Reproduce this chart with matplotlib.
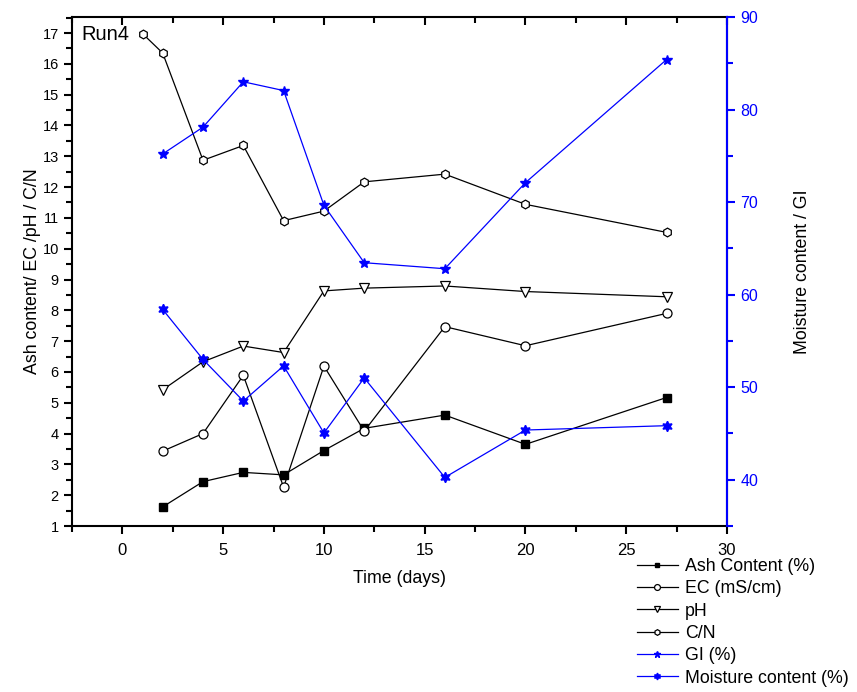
import matplotlib
matplotlib.use("Agg")
import matplotlib.pyplot as plt
from matplotlib.ticker import MultipleLocator

plt.rcParams['font.family'] = ['Liberation Sans', 'DejaVu Sans']

days = [2, 4, 6, 8, 10, 12, 16, 20, 27]
days_cn = [1, 2, 4, 6, 8, 10, 12, 16, 20, 27]
ash = [1.62, 2.44, 2.74, 2.66, 3.45, 4.17, 4.60, 3.65, 5.17]
ec = [3.43, 4.00, 5.89, 2.26, 6.19, 4.08, 7.47, 6.85, 7.90]
ph = [5.42, 6.33, 6.84, 6.63, 8.63, 8.72, 8.79, 8.61, 8.44]
cn = [16.98, 16.35, 12.87, 13.35, 10.91, 11.22, 12.17, 12.42, 11.44, 10.53]
gi = [75.2, 78.1, 83.0, 82.05, 69.65, 63.45, 62.8, 72.1, 85.4]
moisture = [58.4, 53.0, 48.5, 52.3, 45.05, 51.0, 40.25, 45.37, 45.84]

fig = plt.figure(figsize=(8.57, 6.92), dpi=100)
ax = fig.add_axes([72/857, 1-526/692, (727-72)/857, (526-17)/692])
ax2 = ax.twinx()

lw = 0.9
l1, = ax.plot(days, ash, '-', color='black', lw=lw, marker='s', ms=5.5,
              mfc='black', mec='black', label='Ash Content (%)')
l2, = ax.plot(days, ec, '-', color='black', lw=lw, marker='o', ms=6.5,
              mfc='white', mec='black', mew=0.9, label='EC (mS/cm)')
l3, = ax.plot(days, ph, '-', color='black', lw=lw, marker='v', ms=6.5,
              mfc='white', mec='black', mew=0.9, label='pH')
l4, = ax.plot(days_cn, cn, '-', color='black', lw=lw, marker='h', ms=6.3,
              mfc='white', mec='black', mew=0.9, label='C/N')
l5, = ax2.plot(days, gi, '-', color='#0000ff', lw=lw, marker='*', ms=7.5,
               mfc='#0000ff', mec='#0000ff', label='GI (%)')
l6, = ax2.plot(days, moisture, '-', color='#0000ff', lw=lw, marker=(6, 1, 0), ms=7.5,
               mfc='#0000ff', mec='#0000ff', label='Moisture content (%)')

ax.set_xlim(-2.5, 30)
ax.set_ylim(1, 17.52)
ax2.set_ylim(35, 90)

ax.xaxis.set_major_locator(MultipleLocator(5))
ax.xaxis.set_minor_locator(MultipleLocator(2.5))
ax.yaxis.set_major_locator(MultipleLocator(1))
ax.yaxis.set_minor_locator(MultipleLocator(0.5))
ax2.yaxis.set_major_locator(MultipleLocator(10))
ax2.yaxis.set_minor_locator(MultipleLocator(5))

for a in (ax, ax2):
    for s in a.spines.values():
        s.set_linewidth(1.5)

ax.tick_params(axis='x', which='both', direction='out', top=True, labelsize=12,
               width=1.5, pad=6)
ax.tick_params(axis='x', which='major', length=6)
ax.tick_params(axis='x', which='minor', length=4)
ax.tick_params(axis='y', which='both', direction='out', labelsize=10.5, width=1.5)
ax.tick_params(axis='y', which='major', length=6)
ax.tick_params(axis='y', which='minor', length=4)
for t in ax.xaxis.get_major_ticks() + ax.xaxis.get_minor_ticks():
    t.tick2line.set_marker(3)

ax2.spines['right'].set_color('#0000ff')
ax2.spines['left'].set_visible(False)
ax2.spines['top'].set_visible(False)
ax2.spines['bottom'].set_visible(False)
ax2.tick_params(axis='y', which='both', direction='out', colors='#0000ff',
                labelsize=11.5, width=1.5)
ax2.tick_params(axis='y', which='major', length=6)
ax2.tick_params(axis='y', which='minor', length=4)

ax.set_xlabel('Time (days)', fontsize=12.8, labelpad=9)
ax.set_ylabel('Ash content/ EC /pH / C/N', fontsize=12.8, labelpad=1)
ax2.set_ylabel('Moisture content / GI', fontsize=12.8, labelpad=26)

ax.text(0.015, 0.985, 'Run4', transform=ax.transAxes, fontsize=14.5,
        ha='left', va='top')

handles = [l1, l2, l3, l4, l5, l6]
leg = fig.legend(handles=handles, labels=[h.get_label() for h in handles],
                 loc='upper left', bbox_to_anchor=(637/857, 1-558/692),
                 frameon=False, fontsize=12.8, handlelength=2.3,
                 handletextpad=0.4, labelspacing=0.3, borderaxespad=0,
                 borderpad=0, markerscale=0.65)

fig.savefig('out.png', dpi=100)
